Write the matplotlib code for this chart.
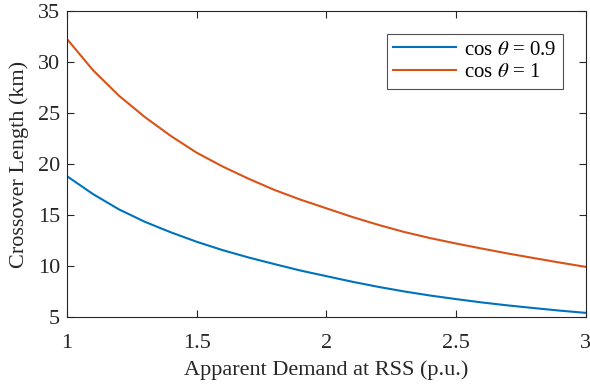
import matplotlib
matplotlib.use('Agg')
import matplotlib.pyplot as plt
import numpy as np

plt.rcParams['font.family'] = ['Liberation Serif', 'DejaVu Serif']
plt.rcParams['mathtext.fontset'] = 'stix'

# apparent demand (p.u.)
demand = [1.0, 1.1, 1.2, 1.3, 1.4, 1.5, 1.6, 1.7, 1.8, 1.9, 2.0,
          2.1, 2.2, 2.3, 2.4, 2.5, 2.6, 2.7, 2.8, 2.9, 3.0]
# crossover length (km)
len_pf09 = [18.8, 17.05, 15.55, 14.33, 13.3, 12.37, 11.55, 10.83, 10.18, 9.55, 9.0,
            8.45, 7.95, 7.5, 7.1, 6.75, 6.42, 6.13, 5.87, 5.62, 5.4]
len_pf1 = [32.25, 29.2, 26.7, 24.6, 22.75, 21.1, 19.75, 18.55, 17.45, 16.5, 15.65,
           14.8, 14.03, 13.33, 12.73, 12.2, 11.7, 11.22, 10.77, 10.33, 9.91]

fig = plt.figure(figsize=(5.9, 3.87), dpi=100)
ax = fig.add_axes([0.1136, 0.181, 0.8794, 0.7906])

ax.plot(demand, len_pf09, color='#0072BD', lw=1.5, label=r'cos $\theta$ = 0.9')
ax.plot(demand, len_pf1, color='#D95319', lw=1.5, label=r'cos $\theta$ = 1')

ax.set_xlim(1, 3)
ax.set_ylim(5, 35)
ax.set_xticks([1, 1.5, 2, 2.5, 3])
ax.set_xticklabels(['1', '1.5', '2', '2.5', '3'])
ax.set_yticks([5, 10, 15, 20, 25, 30, 35])
ax.tick_params(direction='in', top=True, right=True, labelsize=16, colors='#262626',
               length=5, width=0.8)
ax.tick_params(axis='x', pad=12.5)
ax.tick_params(axis='y', pad=5)
for sp in ax.spines.values():
    sp.set_color('#262626')
    sp.set_linewidth(0.8)

ax.set_xlabel('Apparent Demand at RSS (p.u.)', fontsize=16, color='#262626', labelpad=5)
ax.set_ylabel('Crossover Length (km)', fontsize=16, color='#262626', labelpad=6)

leg = ax.legend(loc='upper right', bbox_to_anchor=(0.955, 0.925), fontsize=15,
                frameon=True, fancybox=False, edgecolor='#262626',
                handlelength=3.0, borderpad=0.3, labelspacing=0.15, handletextpad=0.4,
                borderaxespad=0)
leg.get_frame().set_linewidth(0.8)

plt.savefig('out.png', dpi=100)
